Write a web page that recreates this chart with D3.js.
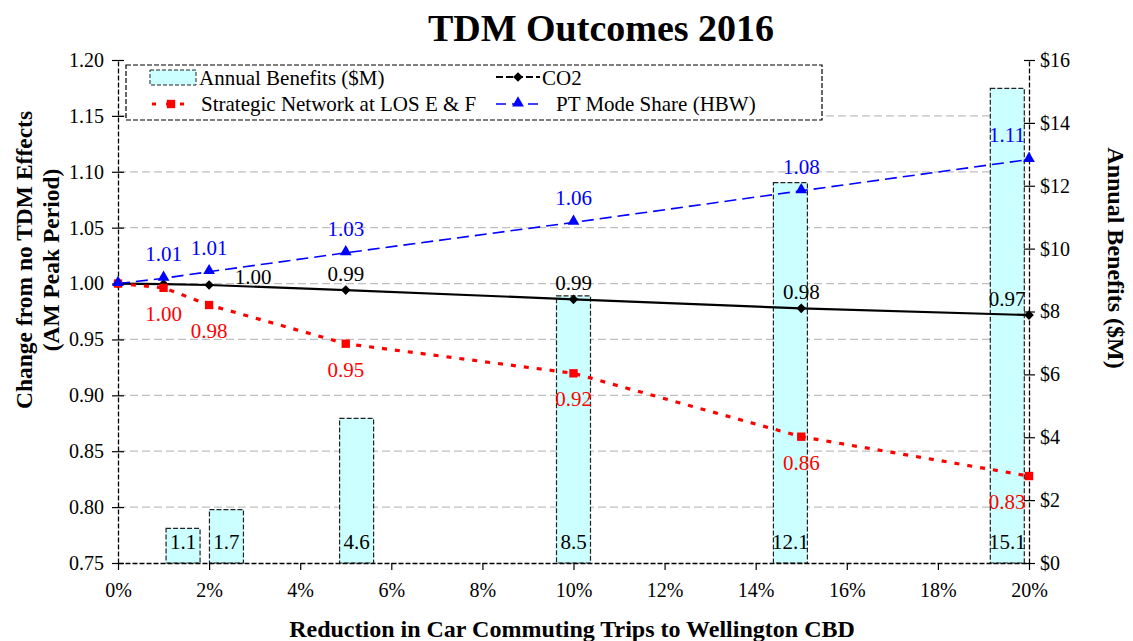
<!DOCTYPE html>
<html>
<head>
<meta charset="utf-8">
<script src="https://cdn.jsdelivr.net/npm/d3@7"></script>
<style>
  body { margin: 0; background: #fff; }
  text { font-family: "Liberation Serif", "Times New Roman", serif; }
</style>
</head>
<body>
<svg id="chart" width="1133" height="641"></svg>
<script>
// reduction in car commuting trips (%)
var pctValues = [0, 1, 2, 5, 10, 15, 20];
var co2 = [1.000, 0.9995, 0.9987, 0.9942, 0.9859, 0.9778, 0.9718];
var strategic = [1.000, 0.9962, 0.9808, 0.9462, 0.9197, 0.8630, 0.8278];
var ptShare = [1.000, 1.0047, 1.0106, 1.0275, 1.0547, 1.0830, 1.1110];

var co2Labels = [null, null, "1.00", "0.99", "0.99", "0.98", "0.97"];
var strategicLabels = [null, "1.00", "0.98", "0.95", "0.92", "0.86", "0.83"];
var ptLabels = [null, "1.01", "1.01", "1.03", "1.06", "1.08", "1.11"];

var barPct = [1, 2, 5, 10, 15, 20];
var benefits = [1.1, 1.7, 4.6, 8.5, 12.1, 15.1];

var leftTicks = [0.75, 0.80, 0.85, 0.90, 0.95, 1.00, 1.05, 1.10, 1.15, 1.20];
var rightTicks = [0, 2, 4, 6, 8, 10, 12, 14, 16];
var xTicks = [0, 2, 4, 6, 8, 10, 12, 14, 16, 18, 20];

var plot = {left: 118, right: 1029, top: 60, bottom: 563};
var barW = 34;

var svg = d3.select("#chart");

var x = d3.scaleLinear().domain([0, 20]).range([plot.left, plot.right]);
// bars sit on a category-style axis, padded half a unit on each side
var xBar = d3.scaleLinear().domain([-0.5, 20.5]).range([plot.left, plot.right]);
var y = d3.scaleLinear().domain([0.75, 1.20]).range([plot.bottom, plot.top]);
var yR = d3.scaleLinear().domain([0, 16]).range([plot.bottom, plot.top]);

//gridlines
svg.append("g").selectAll("line")
    .data(leftTicks.slice(1, -1))
    .enter().append("line")
    .attr("x1", plot.left).attr("x2", plot.right)
    .attr("y1", d => y(d)).attr("y2", d => y(d))
    .attr("stroke", "#c0c0c0").attr("stroke-width", 1.3)
    .attr("stroke-dasharray", "8,4");

//bars
svg.append("g").selectAll("rect")
    .data(benefits)
    .enter().append("rect")
    .attr("x", (d, i) => xBar(barPct[i]) - barW / 2)
    .attr("y", d => yR(d))
    .attr("width", barW)
    .attr("height", d => plot.bottom - yR(d))
    .attr("fill", "#ccffff")
    .attr("stroke", "#222")
    .attr("stroke-width", 1.2)
    .attr("stroke-dasharray", "5,2");

svg.append("g").selectAll("text")
    .data(benefits)
    .enter().append("text")
    .attr("x", (d, i) => xBar(barPct[i]))
    .attr("y", plot.bottom - 14)
    .attr("text-anchor", "middle")
    .attr("font-size", 21)
    .text(d => d.toFixed(1));

//axes
var leftAxis = svg.append("g")
    .attr("transform", "translate(" + plot.left + ",0)")
    .call(d3.axisLeft(y).tickValues(leftTicks).tickFormat(d3.format(".2f")).tickSizeInner(6).tickSizeOuter(0));
var rightAxis = svg.append("g")
    .attr("transform", "translate(" + plot.right + ",0)")
    .call(d3.axisRight(yR).tickValues(rightTicks).tickFormat(d => "$" + d).tickSizeInner(6).tickSizeOuter(0));
var bottomAxis = svg.append("g")
    .attr("transform", "translate(0," + plot.bottom + ")")
    .call(d3.axisBottom(x).tickValues(xTicks).tickFormat(d => d + "%").tickSizeInner(7).tickSizeOuter(0));

[leftAxis, rightAxis, bottomAxis].forEach(function(a){
    a.select(".domain").attr("stroke", "#000").attr("stroke-width", 1.3).attr("stroke-dasharray", "5,2");
    a.selectAll(".tick line").attr("stroke", "#000").attr("stroke-width", 1.2);
    a.selectAll(".tick text").attr("font-size", 20).attr("fill", "#000")
        .style("font-family", "Liberation Serif, serif");
});
leftAxis.selectAll(".tick line").attr("x1", 6);
leftAxis.selectAll(".tick text").attr("x", -14);
rightAxis.selectAll(".tick line").attr("x1", -5);
rightAxis.selectAll(".tick text").attr("x", 11);
bottomAxis.selectAll(".tick text").attr("y", 20);

//lines
function seriesPoints(vals){
    return vals.map((v, i) => [x(pctValues[i]), y(v)]);
}
var line = d3.line();

var redPts = seriesPoints(strategic);
var bluePts = seriesPoints(ptShare);
var blackPts = seriesPoints(co2);

svg.append("path").attr("d", line(blackPts))
    .attr("fill", "none").attr("stroke", "#000").attr("stroke-width", 2.2);
svg.append("path").attr("d", line(redPts))
    .attr("fill", "none").attr("stroke", "#ff0000").attr("stroke-width", 3.2)
    .attr("stroke-dasharray", "5,8");
svg.append("path").attr("d", line(bluePts))
    .attr("fill", "none").attr("stroke", "#0000ff").attr("stroke-width", 1.6)
    .attr("stroke-dasharray", "12,6");

var diamond = d3.symbol().type(d3.symbolDiamond2).size(60);
var square = d3.symbol().type(d3.symbolSquare).size(70);
var triangle = d3.symbol().type(d3.symbolTriangle).size(60);

svg.append("g").selectAll("path").data(blackPts).enter().append("path")
    .attr("d", diamond).attr("transform", d => "translate(" + d[0] + "," + d[1] + ")")
    .attr("fill", "#000");
svg.append("g").selectAll("path").data(redPts).enter().append("path")
    .attr("d", square).attr("transform", d => "translate(" + d[0] + "," + d[1] + ")")
    .attr("fill", "#ff0000");
svg.append("g").selectAll("path").data(bluePts).enter().append("path")
    .attr("d", triangle).attr("transform", d => "translate(" + d[0] + "," + (d[1] - 1) + ")")
    .attr("fill", "#0000ff");

//data labels
function addLabels(pts, labels, color, dy){
    svg.append("g").selectAll("text")
        .data(pts)
        .enter().append("text")
        .filter((d, i) => labels[i] !== null)
        .attr("x", d => Math.min(d[0], plot.right - 22))
        .attr("y", d => d[1] + dy)
        .attr("text-anchor", "middle")
        .attr("font-size", 21)
        .attr("fill", color)
        .text(function(d){ return labels[pts.indexOf(d)]; });
}
addLabels(bluePts, ptLabels, "#0000ff", -17);
addLabels(redPts, strategicLabels, "#ff0000", 33);
addLabels(blackPts.map((p, i) => i == 2 ? [p[0] + 44, p[1] + 8] : p), co2Labels, "#000", -9);

//legend
var lg = svg.append("g");
lg.append("rect")
    .attr("x", 126).attr("y", 65).attr("width", 696).attr("height", 55)
    .attr("fill", "#fff").attr("stroke", "#000").attr("stroke-width", 1.2)
    .attr("stroke-dasharray", "5,2");

lg.append("rect")
    .attr("x", 150).attr("y", 70).attr("width", 46).attr("height", 15)
    .attr("fill", "#ccffff").attr("stroke", "#222").attr("stroke-dasharray", "4,2");
lg.append("text").attr("x", 199).attr("y", 85).attr("font-size", 21).text("Annual Benefits ($M)");

lg.append("line").attr("x1", 496).attr("x2", 540).attr("y1", 77).attr("y2", 77)
    .attr("stroke", "#000").attr("stroke-width", 2.2).attr("stroke-dasharray", "7,3");
lg.append("path").attr("d", diamond).attr("transform", "translate(518,77)").attr("fill", "#000");
lg.append("text").attr("x", 542).attr("y", 85).attr("font-size", 21).text("CO2");

lg.append("line").attr("x1", 152).attr("x2", 190).attr("y1", 104).attr("y2", 104)
    .attr("stroke", "#ff0000").attr("stroke-width", 3.2).attr("stroke-dasharray", "4,10");
lg.append("path").attr("d", square).attr("transform", "translate(171,104)").attr("fill", "#ff0000");
lg.append("text").attr("x", 201).attr("y", 111).attr("font-size", 21).text("Strategic Network at LOS E & F");

lg.append("line").attr("x1", 496).attr("x2", 540).attr("y1", 104).attr("y2", 104)
    .attr("stroke", "#0000ff").attr("stroke-width", 1.6).attr("stroke-dasharray", "10,6");
lg.append("path").attr("d", triangle).attr("transform", "translate(518,103)").attr("fill", "#0000ff");
lg.append("text").attr("x", 556).attr("y", 111).attr("font-size", 21).text("PT Mode Share (HBW)");

//titles
svg.append("text")
    .attr("x", 601).attr("y", 41)
    .attr("text-anchor", "middle").attr("font-size", 38).attr("font-weight", "bold")
    .text("TDM Outcomes 2016");

svg.append("text")
    .attr("x", 572).attr("y", 637)
    .attr("text-anchor", "middle").attr("font-size", 24).attr("font-weight", "bold")
    .text("Reduction in Car Commuting Trips to Wellington CBD");

var lt = svg.append("text")
    .attr("transform", "translate(32,260) rotate(-90)")
    .attr("text-anchor", "middle").attr("font-size", 23.5).attr("font-weight", "bold");
lt.append("tspan").attr("x", 0).attr("y", 0).text("Change from no TDM Effects");
lt.append("tspan").attr("x", 0).attr("y", 27).text("(AM Peak Period)");

svg.append("text")
    .attr("transform", "translate(1108,258) rotate(90)")
    .attr("text-anchor", "middle").attr("font-size", 24).attr("font-weight", "bold")
    .text("Annual Benefits ($M)");
</script>
</body>
</html>
